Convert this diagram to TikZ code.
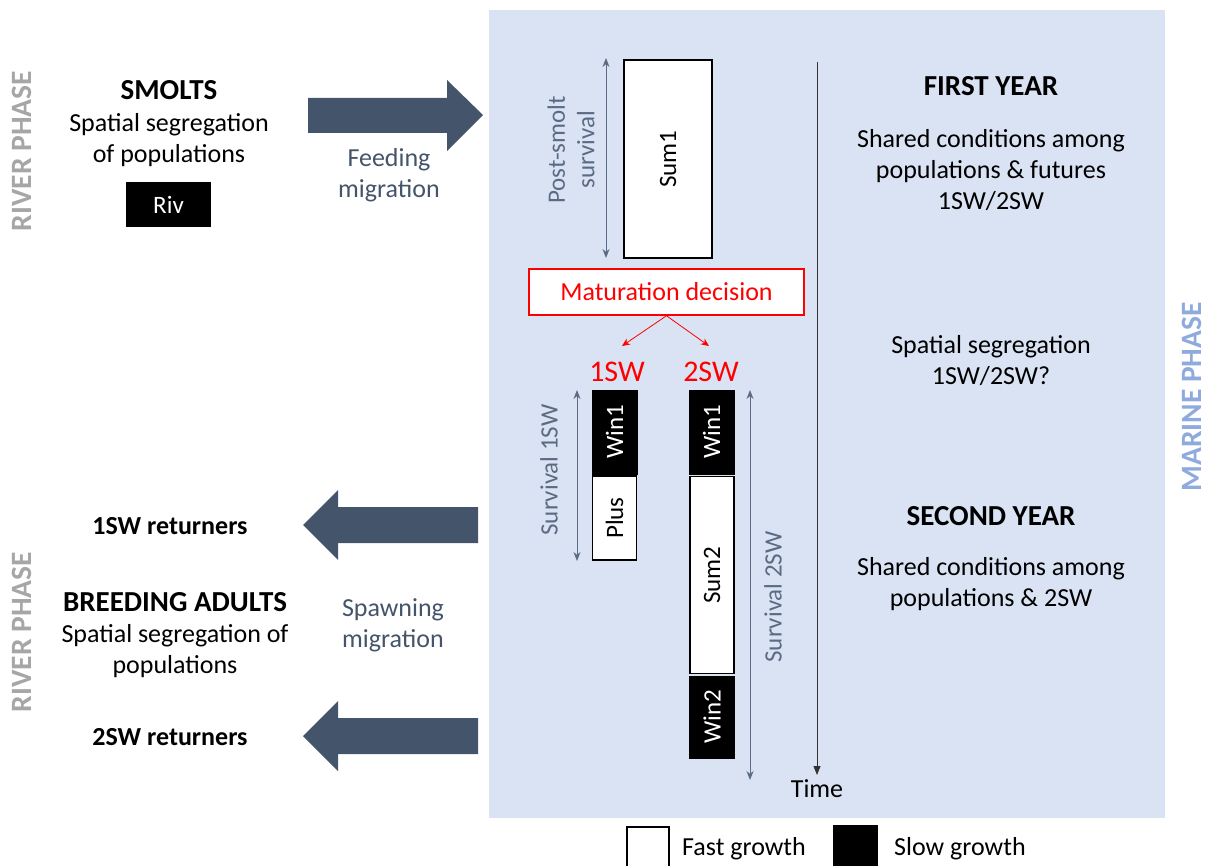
\documentclass[tikz,border=0pt]{standalone}
\usepackage{fontspec}
\setmainfont{Carlito}
\usetikzlibrary{arrows.meta}
\definecolor{bg}{HTML}{DAE3F3}
\definecolor{slate}{HTML}{44546A}
\definecolor{dimc}{HTML}{5B6B84}
\definecolor{riv}{HTML}{A6A6A6}
\definecolor{mar}{HTML}{8FAADC}
\definecolor{mred}{HTML}{FF0000}
\tikzset{
  txt/.style={font=\fontsize{26}{31}\selectfont, align=center, inner sep=0pt},
  head/.style={font=\fontsize{29}{34}\selectfont\bfseries, align=center, inner sep=0pt},
  bold/.style={font=\fontsize{26}{31}\selectfont\bfseries, align=center, inner sep=0pt},
  phase/.style={font=\fontsize{29.5}{34}\selectfont\bfseries, rotate=90, inner sep=0pt},
  fastbox/.style={draw=black, line width=1.5pt, fill=white, rotate=90, font=\fontsize{25}{30}\selectfont, inner sep=0pt},
  slowbox/.style={draw=black, line width=1pt, fill=black, text=white, rotate=90, font=\fontsize{25}{30}\selectfont, inner sep=0pt},
  dimlabel/.style={font=\fontsize{25}{29.5}\selectfont, text=dimc, rotate=90, align=center, inner sep=0pt},
  dimarrow/.style={{Stealth[length=9pt,width=7pt]}-{Stealth[length=9pt,width=7pt]}, dimc, line width=1pt},
  bigarrow/.style={fill=slate},
}
\begin{document}
\begin{tikzpicture}[x=1pt,y=-1pt]
\useasboundingbox (0,0) rectangle (1207,866);
% marine background
\fill[bg] (489,10) rectangle (1165,818);

% phase labels
\node[phase, text=riv] (rp1) at (22,151) {RIVER PHASE};
\node[phase, text=riv] (rp2) at (22,632) {RIVER PHASE};
\node[phase, text=mar] (mp) at (1192,397) {MARINE PHASE};

% smolts
\node[head] (smolts) at (169,90) {SMOLTS};
\node[txt] (smoltstxt) at (169,140) {Spatial segregation\\of populations};
\node[fill=black, text=white, minimum width=85pt, minimum height=45pt, font=\fontsize{25}{30}\selectfont, inner sep=0pt] (riv) at (168.5,204.5) {Riv};

% feeding migration arrow
\fill[bigarrow] (308,98) -- (447,98) -- (447,80) -- (483,115) -- (447,151) -- (447,133) -- (308,133) -- cycle;
\node[txt, text=slate] (feed) at (389,175) {Feeding\\migration};

% first year column
\node[fastbox, minimum width=198pt, minimum height=88pt] (sum1) at (668,159) {Sum1};
\coordinate (ps1) at (606,58);
\coordinate (ps2) at (606,258);
\draw[dimarrow] (ps1) -- (ps2);
\node[dimlabel] (pslab) at (571,150) {Post-smolt\\survival};

% maturation decision
\node[draw=mred, line width=1.5pt, fill=white, text=mred, minimum width=275pt, minimum height=46pt, font=\fontsize{26}{30}\selectfont, inner sep=0pt] (mat) at (666.5,292) {Maturation decision};
\coordinate (m1) at (622,346);
\coordinate (m2) at (709,346);
\draw[-{Stealth[length=8pt,width=7pt]}, mred, line width=0.8pt] (mat.south) -- (m1);
\draw[-{Stealth[length=8pt,width=7pt]}, mred, line width=0.8pt] (mat.south) -- (m2);
\node[font=\fontsize{30}{34}\selectfont, text=mred, inner sep=0pt] (l1sw) at (617,372) {1SW};
\node[font=\fontsize{30}{34}\selectfont, text=mred, inner sep=0pt] (l2sw) at (711,372) {2SW};

% 1SW column
\node[slowbox, minimum width=84pt, minimum height=45pt] (win1a) at (614.5,432) {Win1};
\node[fastbox, minimum width=84pt, minimum height=44pt] (plus) at (614.5,518) {Plus};
\coordinate (s1a) at (577,390);
\coordinate (s1b) at (577,561);
\draw[dimarrow] (s1a) -- (s1b);
\node[dimlabel] (s1lab) at (549,470) {Survival 1SW};

% 2SW column
\node[slowbox, minimum width=84pt, minimum height=45pt] (win1b) at (711.5,432) {Win1};
\node[fastbox, minimum width=197pt, minimum height=44pt] (sum2) at (712,575) {Sum2};
\node[slowbox, minimum width=82pt, minimum height=45pt] (win2) at (712,717) {Win2};
\coordinate (s2a) at (750,390);
\coordinate (s2b) at (750,780);
\draw[dimarrow] (s2a) -- (s2b);
\node[dimlabel] (s2lab) at (773,597) {Survival 2SW};

% time axis
\coordinate (t0) at (817,62);
\node[font=\fontsize{26}{30}\selectfont, inner sep=0pt] (time) at (817,789) {Time};
\draw[-{Triangle[length=9pt,width=7pt]}, line width=1pt, black!80] (t0) -- (817,775);

% right column texts
\node[head] (fy) at (991,86) {FIRST YEAR};
\node[txt] (fytxt) at (991,170) {Shared conditions among\\populations \& futures\\1SW/2SW};
\node[txt] (segtxt) at (991,361) {Spatial segregation\\1SW/2SW?};
\node[head] (sy) at (991,516) {SECOND YEAR};
\node[txt] (sytxt) at (991,584) {Shared conditions among\\populations \& 2SW};

% returners
\node[bold] (r1) at (170,526) {1SW returners};
\node[bold] (r2) at (170,737) {2SW returners};
\node[head] (breed) at (175,602) {BREEDING ADULTS};
\node[txt] (breedtxt) at (175,651) {Spatial segregation of\\populations};

% spawning arrows
\fill[bigarrow] (478,507) -- (338,507) -- (338,490) -- (303,525) -- (338,560) -- (338,543) -- (478,543) -- cycle;
\fill[bigarrow] (478,718) -- (338,718) -- (338,701) -- (303,736) -- (338,771) -- (338,754) -- (478,754) -- cycle;
\node[txt, text=slate] (spawn) at (393,625) {Spawning\\migration};

% legend
\draw[line width=1.5pt, fill=white] (627,827) rectangle (669,872);
\node[txt, anchor=west] (fast) at (682,849) {Fast growth};
\fill[black] (833,825) rectangle (878,872);
\node[txt, anchor=west] (slow) at (894,849) {Slow growth};
\end{tikzpicture}
\end{document}
